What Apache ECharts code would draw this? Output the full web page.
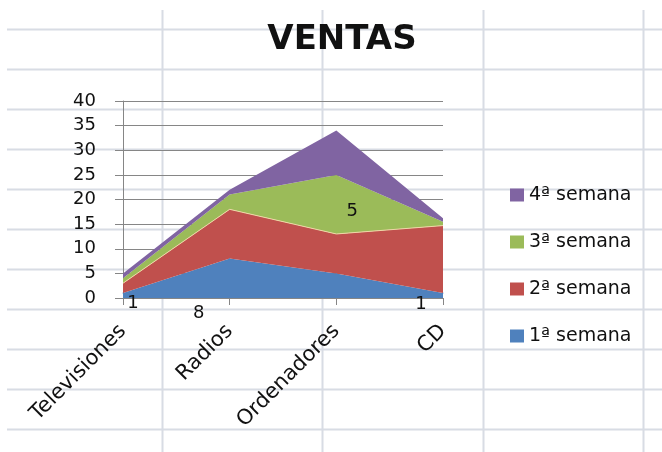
<!DOCTYPE html>
<html>
<head>
<meta charset="utf-8">
<script src="https://cdn.jsdelivr.net/npm/echarts@6/dist/echarts.min.js"></script>
<style>
  html, body { margin: 0; padding: 0; background: #ffffff; }
  #chart { width: 662px; height: 452px; }
</style>
</head>
<body>
<div id="chart"></div>
<script>
// Productos y ventas por semana
const categories = ['Televisiones', 'Radios', 'Ordenadores', 'CD'];
const semana1 = [1, 8, 5, 1];
const semana2 = [2, 10, 8, 13.7];
const semana3 = [1, 3, 12, 0.8];
const semana4 = [1, 1, 9, 0.7];
const seriesNames = ['1ª semana', '2ª semana', '3ª semana', '4ª semana'];
const yTicks = { min: 0, max: 40, step: 5 };

// Desplazamiento manual de las etiquetas de la 1ª semana
const labelOffsets = [[10, 10], [-31, 55], [16, -62], [-22, 11]];

const FONT = 'DejaVu Sans';
const colors = ['#4f81bd', '#c0504d', '#9bbb59', '#8064a2'];

// Cuadrícula de la hoja de cálculo detrás del gráfico
const sheetLines = [];
const sheetColor = '#d8dce4';
for (let y = 29; y <= 452; y += 40) {
  sheetLines.push({ type: 'line', z: -10, silent: true,
    shape: { x1: 7, y1: y + 0.5, x2: 662, y2: y + 0.5 },
    style: { stroke: sheetColor, lineWidth: 2 } });
}
[162, 322, 483, 643].forEach(x => {
  sheetLines.push({ type: 'line', z: -10, silent: true,
    shape: { x1: x + 0.5, y1: 10, x2: x + 0.5, y2: 452 },
    style: { stroke: sheetColor, lineWidth: 2 } });
});

const values = [semana1, semana2, semana3, semana4];

const series = values.map((arr, i) => {
  const s = {
    name: seriesNames[i],
    type: 'line',
    stack: 'total',
    data: arr,
    symbol: 'none',
    lineStyle: { width: 0, color: colors[i] },
    itemStyle: { color: colors[i] },
    areaStyle: { color: colors[i], opacity: 1 },
    emphasis: { disabled: true },
    z: 2
  };
  if (i === 1) {
    s.lineStyle = { width: 1, color: '#efd6a6' };
  }
  if (i === 0) {
    s.symbol = 'circle';
    s.symbolSize = 1;
    s.showSymbol = true;
    s.data = arr.map((v, k) => ({
      value: v,
      label: { show: true, position: 'inside', offset: labelOffsets[k] }
    }));
    s.label = { show: true, color: '#111', fontFamily: FONT, fontSize: 18 };
  }
  return s;
});

const chart = echarts.init(document.getElementById('chart'), null, { renderer: 'canvas' });
chart.setOption({
  backgroundColor: 'transparent',
  animation: false,
  graphic: sheetLines,
  title: {
    text: 'VENTAS',
    left: 337,
    textAlign: 'center',
    top: 18,
    textStyle: { fontFamily: FONT, fontSize: 34, fontWeight: 'bold', color: '#111' }
  },
  legend: {
    orient: 'vertical',
    left: 510,
    top: 185,
    padding: 0,
    data: seriesNames.slice().reverse(),
    icon: 'rect',
    itemWidth: 14,
    itemHeight: 13,
    itemGap: 27,
    textStyle: { fontFamily: FONT, fontSize: 19, color: '#111', lineHeight: 20 },
    selectedMode: false
  },
  grid: { left: 123, right: 219, top: 101, bottom: 154, containLabel: false },
  xAxis: {
    type: 'category',
    data: categories,
    boundaryGap: false,
    axisLine: { lineStyle: { color: '#868686', width: 1 } },
    axisTick: { show: true, alignWithLabel: true, length: 7, lineStyle: { color: '#868686' } },
    axisLabel: {
      rotate: 45,
      interval: 0,
      margin: 30,
      fontFamily: FONT,
      fontSize: 21,
      color: '#111'
    },
    splitLine: { show: false }
  },
  yAxis: {
    type: 'value',
    min: yTicks.min,
    max: yTicks.max,
    interval: yTicks.step,
    axisLine: { show: true, lineStyle: { color: '#868686', width: 1 } },
    axisTick: { show: true, length: 8, lineStyle: { color: '#868686' } },
    axisLabel: { margin: 27, fontFamily: FONT, fontSize: 18, color: '#111' },
    splitLine: { show: true, lineStyle: { color: '#868686', width: 1 } }
  },
  series: series
});
</script>
</body>
</html>
